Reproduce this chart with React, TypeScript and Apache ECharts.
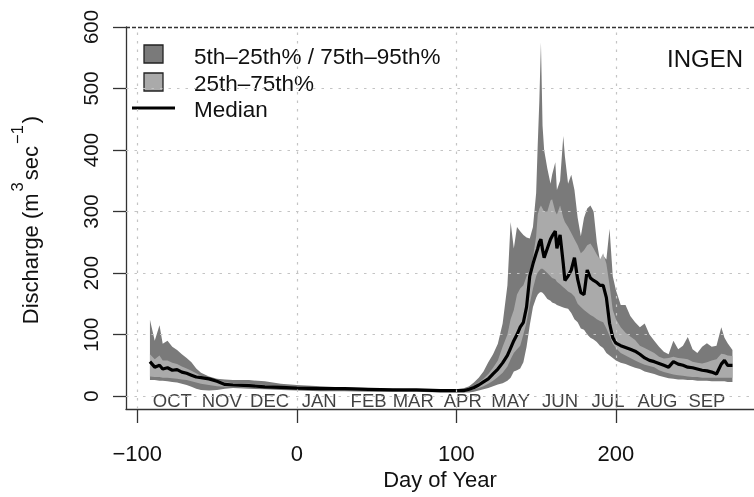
import React, { useEffect, useRef } from "react";
import * as echarts from "echarts";

const days = [-92, -89, -86, -84, -81, -78, -75, -72, -69, -66, -63, -60, -55, -50, -45, -40, -30, -20, -10, 0, 15, 30, 45, 60, 75, 90, 100, 105, 108, 111, 114, 117, 120, 123, 126, 129, 132, 134, 136, 138, 140, 142, 144, 146, 148, 150, 151, 152, 153, 154, 155, 157, 159, 160, 162, 163, 165, 167, 168, 170, 172, 174, 176, 178, 180, 182, 184, 186, 188, 190, 192, 194, 196, 198, 200, 203, 206, 209, 212, 215, 218, 221, 224, 227, 230, 233, 236, 239, 242, 245, 248, 251, 254, 257, 260, 263, 266, 268, 270, 273];

const p95 = [124, 90, 115, 85, 90, 80, 75, 68, 62, 55, 45, 38, 32, 28, 27, 26, 26, 24, 20, 18, 16, 14, 13, 12, 11, 11, 11, 13, 16, 22, 30, 40, 55, 68, 85, 118, 180, 283, 240, 275, 268, 262, 258, 256, 275, 330, 410, 480, 575, 440, 400, 370, 345, 360, 380, 335, 350, 423, 390, 345, 360, 335, 290, 260, 290, 305, 310, 300, 250, 220, 228, 222, 272, 195, 172, 148, 148, 130, 120, 112, 118, 100, 90, 80, 72, 68, 90, 76, 82, 96, 76, 70, 80, 86, 80, 82, 112, 95, 86, 75];

const p75 = [68, 60, 66, 58, 58, 54, 52, 48, 45, 41, 37, 33, 30, 26, 23, 21, 20, 18, 16, 15, 14, 13, 12, 11, 11, 10, 10, 11, 13, 17, 22, 28, 36, 46, 58, 80, 100, 125, 140, 165, 175, 180, 195, 205, 225, 260, 295, 305, 310, 305, 300, 300, 318, 320, 300, 295, 310, 290, 283, 275, 265, 255, 245, 232, 237, 245, 248, 240, 230, 222, 232, 215, 180, 140, 125, 112, 103, 97, 91, 82, 78, 74, 70, 64, 61, 62, 64, 62, 61, 60, 56, 54, 53, 55, 58, 60, 69, 68, 66, 65];

const median = [56, 47, 50, 44, 46, 42, 43, 39, 37, 34, 31, 30, 28, 24, 19, 18, 17, 15, 14, 13, 12, 12, 11, 10, 10, 9, 9, 9, 11, 14, 18, 23, 28, 36, 44, 54, 66, 78, 90, 100, 112, 120, 145, 195, 215, 232, 240, 250, 255, 238, 225, 240, 255, 260, 268, 240, 262, 215, 188, 195, 205, 225, 190, 168, 165, 205, 192, 188, 185, 180, 180, 160, 118, 95, 86, 82, 79, 76, 73, 68, 62, 58, 56, 53, 50, 47, 56, 52, 50, 47, 46, 44, 42, 41, 39, 36, 52, 58, 50, 50];

const p25 = [32, 31, 31, 30, 30, 29, 28, 27, 26, 24, 22, 20, 18, 16, 15, 15, 14, 13, 12, 11, 10, 10, 9, 9, 9, 8, 8, 8, 9, 11, 13, 16, 20, 25, 31, 38, 48, 60, 70, 76, 82, 100, 120, 150, 175, 195, 201, 204, 207, 207, 205, 200, 195, 192, 190, 186, 182, 177, 175, 170, 167, 162, 150, 145, 140, 136, 132, 129, 125, 122, 120, 110, 98, 85, 78, 70, 66, 62, 58, 54, 51, 49, 47, 42, 39, 37, 35, 34, 33, 32, 31, 31, 30, 30, 30, 30, 30, 30, 30, 30];

const p5 = [26, 26, 25, 25, 24, 23, 22, 20, 18, 15, 12, 10, 9, 10, 12, 13, 12, 11, 10, 9, 8, 8, 7, 7, 7, 6, 6, 6, 6, 7, 9, 11, 13, 16, 19, 21, 25, 30, 40, 42, 45, 55, 80, 115, 145, 160, 165, 168, 169, 168, 165, 158, 155, 152, 150, 148, 146, 144, 143, 142, 135, 125, 120, 110, 108, 100, 95, 92, 88, 82, 78, 70, 66, 62, 58, 54, 52, 49, 46, 44, 40, 38, 36, 33, 31, 29, 28, 27, 27, 26, 26, 25, 25, 25, 24, 24, 24, 24, 23, 23];

const monthNames = ["OCT", "NOV", "DEC", "JAN", "FEB", "MAR", "APR", "MAY", "JUN", "JUL", "AUG", "SEP"];
const monthMidDays = [-78, -47, -17, 14, 45, 73, 104, 134, 165, 195, 226, 257];
const monthLabelLevel = -7;

const xTicks = [-100, 0, 100, 200];
const yTicks = [0, 100, 200, 300, 400, 500, 600];
const yGridLines = [0, 100, 200, 300, 400, 500];
const yTopLine = 600;

const legendLabels = ["5th\u201325th% / 75th\u201395th%", "25th\u201375th%", "Median"];
const siteName = "INGEN";
const yTitleParts = [
  { t: "Discharge (m", sup: false },
  { t: "3", sup: true },
  { t: "sec", sup: false },
  { t: "\u22121", sup: true },
  { t: ")", sup: false },
];

const FONT = "'Liberation Sans', Arial, Helvetica, sans-serif";
const DARK = "#7a7a7a";
const LIGHT = "#aaaaaa";

function measure(text: string, size: number): number {
  const span = document.createElement("span");
  span.style.fontFamily = FONT;
  span.style.fontSize = size + "px";
  span.style.position = "absolute";
  span.style.whiteSpace = "pre";
  span.style.visibility = "hidden";
  span.textContent = text;
  document.body.appendChild(span);
  const w = span.getBoundingClientRect().width;
  document.body.removeChild(span);
  return w;
}

function bandSeries(lo: number[], hi: number[], color: string, name: string) {
  return {
    type: "custom",
    name,
    data: days.map((d, i) => [d, lo[i], hi[i]]),
    encode: { x: 0, y: [1, 2] },
    z: 2,
    silent: true,
    renderItem: (params: any, api: any) => {
      if (params.dataIndex !== 0) return null;
      const pts: number[][] = [];
      for (let i = 0; i < days.length; i++) pts.push(api.coord([days[i], hi[i]]));
      for (let i = days.length - 1; i >= 0; i--) pts.push(api.coord([days[i], lo[i]]));
      return { type: "polygon", shape: { points: pts }, style: { fill: color, stroke: null } };
    },
  };
}

export default function App() {
  const ref = useRef<HTMLDivElement>(null);

  useEffect(() => {
    if (!ref.current) return;
    const chart = echarts.init(ref.current, undefined, { renderer: "svg" });

    const dotted = { color: "#c4c4c4", width: 1.2, type: [2.5, 6] as any };
    const med = days.map((d, i) => [d, median[i]]);
    const months = monthNames.map((m, i) => [monthMidDays[i], monthLabelLevel, m]);

    const fmtMinus = (v: number) => (v < 0 ? "\u2212" + Math.abs(v) : String(v));

    const nSize = 22;
    const sSize = 16.5;
    const supGap = 2;
    const widths = yTitleParts.map((p) => measure(p.t, p.sup ? sSize : nSize) + (p.sup ? 2 * supGap : 0));
    const total = widths.reduce((a, b) => a + b, 0);
    let cx = -total / 2;
    const titleChildren = yTitleParts.map((p, i) => {
      const el = {
        type: "text",
        x: cx + (p.sup ? supGap : 0),
        y: p.sup ? -13 : 0,
        style: {
          text: p.t,
          fontSize: p.sup ? sSize : nSize,
          fontFamily: FONT,
          fill: "#111",
          align: "left",
          verticalAlign: "middle",
        },
      };
      cx += widths[i];
      return el;
    });

    chart.setOption({
      animation: false,
      textStyle: { fontFamily: FONT },
      grid: { left: 126, right: 0, top: 27, bottom: 88, containLabel: false },
      xAxis: {
        type: "value",
        min: -107,
        max: 286.5,
        axisLine: { show: true, onZero: false, lineStyle: { color: "#333", width: 1.3 } },
        axisTick: { show: true, length: 14, customValues: xTicks, lineStyle: { color: "#333", width: 1.3 } },
        axisLabel: { customValues: xTicks, margin: 33, fontSize: 22, color: "#111", fontFamily: FONT, formatter: fmtMinus },
        splitLine: { show: false },
        name: "Day of Year",
        nameLocation: "middle",
        nameGap: 59,
        nameTextStyle: { fontSize: 22, color: "#111", fontFamily: FONT },
      },
      yAxis: {
        type: "value",
        min: -21,
        max: 600,
        axisLine: { show: true, onZero: false, lineStyle: { color: "#333", width: 1.3 } },
        axisTick: { show: true, length: 13, customValues: yTicks, lineStyle: { color: "#333", width: 1.3 } },
        axisLabel: { customValues: yTicks, rotate: 90, margin: 25, fontSize: 20.5, color: "#111", fontFamily: FONT },
        splitLine: { show: false },
      },
      graphic: [
        { type: "group", x: 30, y: 220, rotation: Math.PI / 2, children: titleChildren },
        { type: "rect", shape: { x: 144, y: 45, width: 19, height: 18 }, style: { fill: DARK, stroke: "#222", lineWidth: 1.3 } },
        { type: "rect", shape: { x: 144, y: 73, width: 19, height: 18 }, style: { fill: LIGHT, stroke: "#222", lineWidth: 1.3 } },
        { type: "line", shape: { x1: 132, y1: 108, x2: 175, y2: 108 }, style: { stroke: "#000", lineWidth: 3 } },
        { type: "text", x: 194, y: 56, style: { text: legendLabels[0], fontSize: 22.5, fontFamily: FONT, fill: "#111", verticalAlign: "middle", align: "left" } },
        { type: "text", x: 194, y: 83, style: { text: legendLabels[1], fontSize: 22.5, fontFamily: FONT, fill: "#111", verticalAlign: "middle", align: "left" } },
        { type: "text", x: 194, y: 109, style: { text: legendLabels[2], fontSize: 22.5, fontFamily: FONT, fill: "#111", verticalAlign: "middle", align: "left" } },
        { type: "text", x: 743, y: 58, style: { text: siteName, fontSize: 24, fontFamily: FONT, fill: "#111", verticalAlign: "middle", align: "right" } },
      ],
      series: [
        {
          type: "line",
          name: "grid",
          data: med,
          symbol: "none",
          lineStyle: { width: 0, opacity: 0 },
          silent: true,
          z: 1,
          markLine: {
            silent: true,
            symbol: "none",
            label: { show: false },
            data: [
              ...xTicks.map((v) => ({ xAxis: v, lineStyle: dotted })),
              ...yGridLines.map((v) => ({ yAxis: v, lineStyle: dotted })),
              { yAxis: yTopLine, lineStyle: { color: "#333", width: 1.3, type: [4, 2] as any } },
            ],
          },
        },
        bandSeries(p5, p95, DARK, "5th-95th"),
        bandSeries(p25, p75, LIGHT, "25th-75th"),
        {
          type: "line",
          name: "Median",
          data: med,
          symbol: "none",
          lineStyle: { color: "#000", width: 3.2 },
          z: 3,
        },
        {
          type: "scatter",
          name: "months",
          data: months,
          symbolSize: 1,
          itemStyle: { color: "transparent" },
          label: {
            show: true,
            position: "inside",
            formatter: (p: any) => p.data[2],
            fontSize: 18.5,
            color: "#111",
            fontFamily: FONT,
          },
          z: 4,
        },
      ],
    });

    return () => chart.dispose();
  }, []);

  return <div ref={ref} style={{ position: "fixed", left: 0, top: 0, width: 754, height: 497 }} />;
}
